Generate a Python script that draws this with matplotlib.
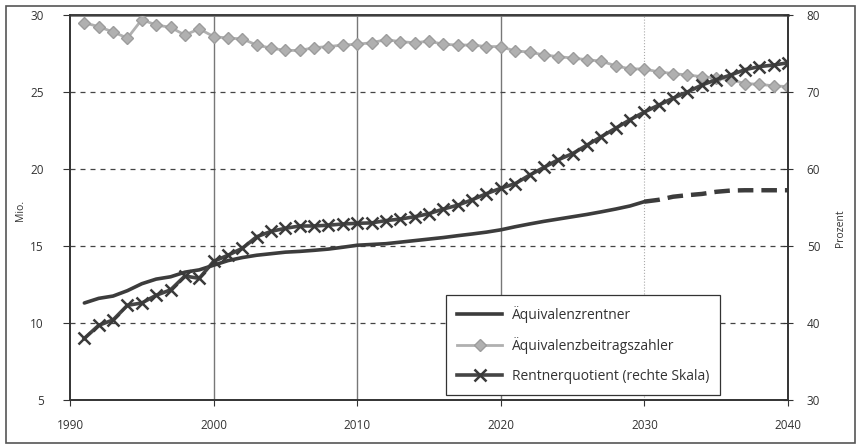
import matplotlib
matplotlib.use("Agg")
import matplotlib.pyplot as plt
from matplotlib.patches import Rectangle
from matplotlib.lines import Line2D

plt.rcParams['font.family'] = ['Open Sans', 'DejaVu Sans']

years = list(range(1991, 2041))

rentner = [11.3, 11.6, 11.75, 12.1, 12.55, 12.85, 13.0, 13.3, 13.45, 13.75,
           14.05, 14.25, 14.4, 14.5, 14.6, 14.65, 14.72, 14.8, 14.92, 15.05,
           15.1, 15.15, 15.25, 15.35, 15.45, 15.55, 15.67, 15.78, 15.9, 16.05,
           16.25, 16.43, 16.6, 16.75, 16.9, 17.05, 17.22, 17.4, 17.6, 17.88,
           18.0, 18.2, 18.3, 18.38, 18.52, 18.6, 18.62, 18.62, 18.62, 18.62]

beitragszahler = [29.5, 29.24, 28.9, 28.5, 29.7, 29.35, 29.2, 28.7, 29.1, 28.6,
                  28.5, 28.45, 28.05, 27.85, 27.7, 27.7, 27.88, 27.95, 28.05, 28.1,
                  28.2, 28.4, 28.27, 28.2, 28.3, 28.1, 28.05, 28.05, 27.95, 27.95,
                  27.66, 27.6, 27.4, 27.3, 27.2, 27.1, 27.0, 26.7, 26.5, 26.5,
                  26.3, 26.2, 26.1, 26.0, 25.9, 25.8, 25.55, 25.5, 25.4, 25.35]

quotient = [38.0, 39.7, 40.4, 42.3, 42.6, 43.6, 44.3, 46.1, 45.8, 48.0,
            48.8, 49.7, 51.2, 51.9, 52.3, 52.6, 52.6, 52.7, 52.86, 52.95,
            53.0, 53.3, 53.5, 53.8, 54.2, 54.8, 55.3, 56.0, 56.8, 57.5,
            58.1, 59.2, 60.2, 61.2, 62.0, 63.1, 64.2, 65.3, 66.4, 67.4,
            68.3, 69.2, 70.0, 70.9, 71.6, 72.2, 72.9, 73.3, 73.5, 73.8]

last_actual_year = 2030

xticks = [1990, 2000, 2010, 2020, 2030, 2040]
left_ticks = [5, 10, 15, 20, 25, 30]
right_ticks = [30, 40, 50, 60, 70, 80]

labels = ["Äquivalenzrentner", "Äquivalenzbeitragszahler", "Rentnerquotient (rechte Skala)"]

W, H = 859, 445
fig = plt.figure(figsize=(W / 100, H / 100), dpi=100)
fig.patches.append(Rectangle((6 / W, 2 / H), 849 / W, 437 / H, transform=fig.transFigure,
                             fill=False, edgecolor='#555555', linewidth=1.2))

ax = fig.add_axes([70 / W, 1 - 400 / H, 718 / W, 385 / H])
ax.set_xlim(1990, 2040)
ax.set_ylim(5, 30)
ax2 = ax.twinx()
ax2.set_ylim(30, 80)

# grid
for x in [2000, 2010, 2020]:
    ax.axvline(x, color='#777777', lw=1.0, zorder=1)
ax.axvline(2030, color='#aaaaaa', lw=0.8, ls=':', zorder=1)
for y in [10, 15, 20, 25]:
    ax.axhline(y, color='#444444', lw=0.9, ls=(0, (4, 4)), zorder=1)

split = years.index(last_actual_year) + 1
dark = '#3c3c3c'
ax.plot(years[:split], rentner[:split], color=dark, lw=2.6, zorder=3,
        solid_capstyle='round')
ax.plot(years[split - 1:], rentner[split - 1:], color=dark, lw=3.2, ls=(0, (3.5, 1.8)), zorder=3)
ax.plot(years, beitragszahler, color='#b0b0b0', lw=2.0, marker='D', markersize=6.5,
        markerfacecolor='#b0b0b0', markeredgecolor='#9c9c9c', zorder=3)
ax2.plot(years, quotient, color='#454545', lw=2.6, marker='x', markersize=9,
         markeredgewidth=1.8, markeredgecolor='#3a3a3a', zorder=4)

ax.set_xticks(xticks)
ax.set_xticklabels([str(t) for t in xticks], fontsize=8.5, color='#333333')
ax.set_yticks(left_ticks)
ax.set_yticklabels([str(t) for t in left_ticks], fontsize=8.5, color='#333333')
ax2.set_yticks(right_ticks)
ax2.set_yticklabels([str(t) for t in right_ticks], fontsize=8.5, color='#333333')

ax.tick_params(axis='x', direction='out', length=4, width=0.8, pad=10, color='#333333')
ax.tick_params(axis='y', direction='out', length=5, width=0.8, pad=14, color='#333333')
ax2.tick_params(axis='y', direction='inout', length=7, width=0.8, pad=10, color='#333333')

for a in (ax, ax2):
    for s in a.spines.values():
        s.set_color('#333333')
        s.set_linewidth(1.2)
ax.spines['top'].set_color('#777777')
ax.spines['top'].set_linewidth(2.0)

fig.text(20 / W, 1 - 210 / H, "Mio.", rotation=90, fontsize=7.5, color='#333333',
         ha='center', va='center')
fig.text(841 / W, 1 - 228 / H, "Prozent", rotation=90, fontsize=7.5, color='#333333',
         ha='center', va='center')

handles = [
    Line2D([], [], color=dark, lw=2.6),
    Line2D([], [], color='#b0b0b0', lw=2.0, marker='D', markersize=6.5,
           markerfacecolor='#b0b0b0', markeredgecolor='#9c9c9c'),
    Line2D([], [], color='#454545', lw=2.6, marker='x', markersize=9,
           markeredgewidth=1.8, markeredgecolor='#3a3a3a'),
]
leg = ax2.legend(handles, labels, loc='lower left', bbox_to_anchor=(0.524, 0.013),
                 fontsize=10, frameon=True, fancybox=False, framealpha=1,
                 edgecolor='#333333', handlelength=3.2, labelspacing=1.05,
                 borderpad=0.8, handletextpad=0.7, borderaxespad=0)
leg.get_frame().set_linewidth(0.9)
for t in leg.get_texts():
    t.set_color('#333333')

fig.savefig("out.png", dpi=100)
